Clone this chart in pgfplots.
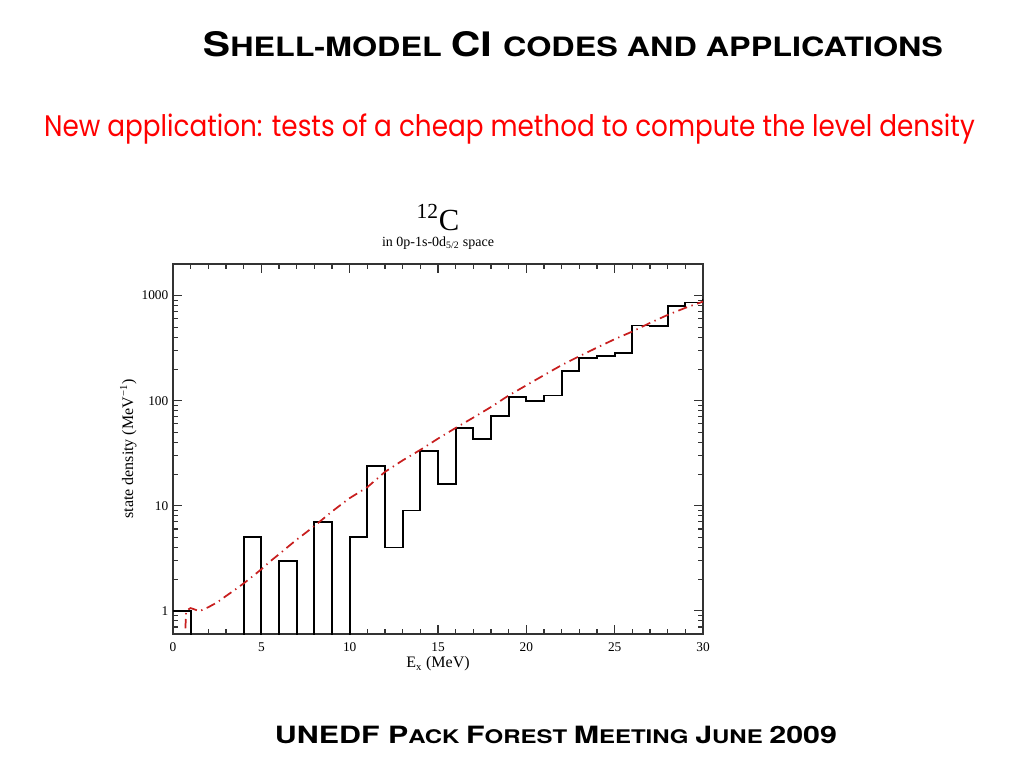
\documentclass[border=0pt]{standalone}
\usepackage{pgfplots}
\pgfplotsset{compat=1.18}
\usepackage{fontspec}
\setmainfont{Liberation Serif}
\newfontfamily\headfont{TeX Gyre Heros}
\newfontfamily\redfont{Poppins}
\definecolor{curvered}{RGB}{200,30,30}

\begin{document}
\begin{tikzpicture}
% slide canvas: 1024x768 px, 1 px = 0.75 pt, origin top left
\fill[white] (0,0) rectangle (768pt,-576pt);

\node at (429.75pt,-33.5pt) {\resizebox{555pt}{18.75pt}{\headfont\bfseries
  {\fontsize{19}{19}\selectfont S}{\fontsize{15}{15}\selectfont HELL-MODEL }%
  {\fontsize{19}{19}\selectfont CI }{\fontsize{15}{15}\selectfont CODES AND APPLICATIONS}}};

\node[text=red] at (382.1pt,-97pt) {\resizebox{698pt}{17pt}{\redfont\fontsize{16}{18}\selectfont
  New application: tests of a cheap method to compute the level density}};

\node at (417pt,-551pt) {\resizebox{421.5pt}{13pt}{\headfont\bfseries
  {\fontsize{19}{19}\selectfont UNEDF P}{\fontsize{15}{15}\selectfont ACK }%
  {\fontsize{19}{19}\selectfont F}{\fontsize{15}{15}\selectfont OREST }%
  {\fontsize{19}{19}\selectfont M}{\fontsize{15}{15}\selectfont EETING }%
  {\fontsize{19}{19}\selectfont J}{\fontsize{15}{15}\selectfont UNE }%
  {\fontsize{19}{19}\selectfont 2009}}};

\node at (328.5pt,-163pt) {\fontsize{23}{25}\selectfont\textsuperscript{12}C};
\node at (328.5pt,-182pt) {\fontsize{10.5}{12}\selectfont in 0p-1s-0d\textsubscript{5/2} space};

\begin{axis}[
  at={(129.75pt,-475.5pt)}, anchor=south west,
  scale only axis, width=397.5pt, height=277.5pt,
  ymode=log,
  xmin=0, xmax=30, ymin=0.6, ymax=2000,
  xtick={0,5,...,30}, minor x tick num=4,
  log ticks with fixed point,
  /pgf/number format/1000 sep={},
  /pgf/number format/assume math mode=true,
  tick align=inside,
  major tick length=7pt, minor tick length=4pt,
  axis line style={black!80, line width=1pt},
  every tick/.style={black!80, line width=0.8pt},
  tick label style={font=\fontsize{10}{11}\selectfont},
  xticklabel style={yshift=-3pt},
  xlabel={E\textsubscript{x} (MeV)},
  ylabel={state density (MeV\textsuperscript{−1})},
  label style={font=\fontsize{12}{13}\selectfont},
  xlabel style={yshift=3pt},
  ylabel style={yshift=-3pt},
  clip=true,
]
% histogram of the computed state density (1 MeV bins, left edges)
\addplot[const plot, black, line width=1.4pt] coordinates {
  (0,1) (1,0.01) (4,5) (5,0.01) (6,3) (7,0.01) (8,7) (9,0.01)
  (10,5) (11,24) (12,4) (13,9) (14,33) (15,16) (16,55) (17,43)
  (18,71) (19,108) (20,99) (21,112) (22,190) (23,256) (24,266)
  (25,286) (26,520) (27,512) (28,800) (29,860) (30,900) (31,900)
};
% cheap-method estimate
\addplot[curvered, line width=1.3pt, dash pattern=on 7pt off 3.5pt on 1pt off 3.5pt] coordinates {
  (0.7,0.68) (0.75,1.0) (1.0,1.06) (1.5,0.99) (2.0,1.08) (2.5,1.2)
  (3.0,1.38) (3.5,1.58) (4.0,1.82) (4.5,2.12) (5.0,2.48) (5.5,2.95)
  (6.0,3.45) (6.5,4.05) (7.0,4.75) (7.5,5.5) (8.0,6.4) (8.5,7.5)
  (9.0,8.8) (9.5,10.2) (10.0,11.8) (10.5,13.3) (11.0,15) (12.0,21)
  (13.0,27) (14.0,34) (15.0,43.5) (16.0,55) (17.0,69) (18.0,87)
  (19.0,112) (20.0,140) (21.0,175) (22.0,218) (23.0,265) (24.0,320)
  (25.0,385) (26.0,455) (27.0,550) (28.0,655) (29.0,765) (30.0,877)
};
\end{axis}
\end{tikzpicture}
\end{document}
